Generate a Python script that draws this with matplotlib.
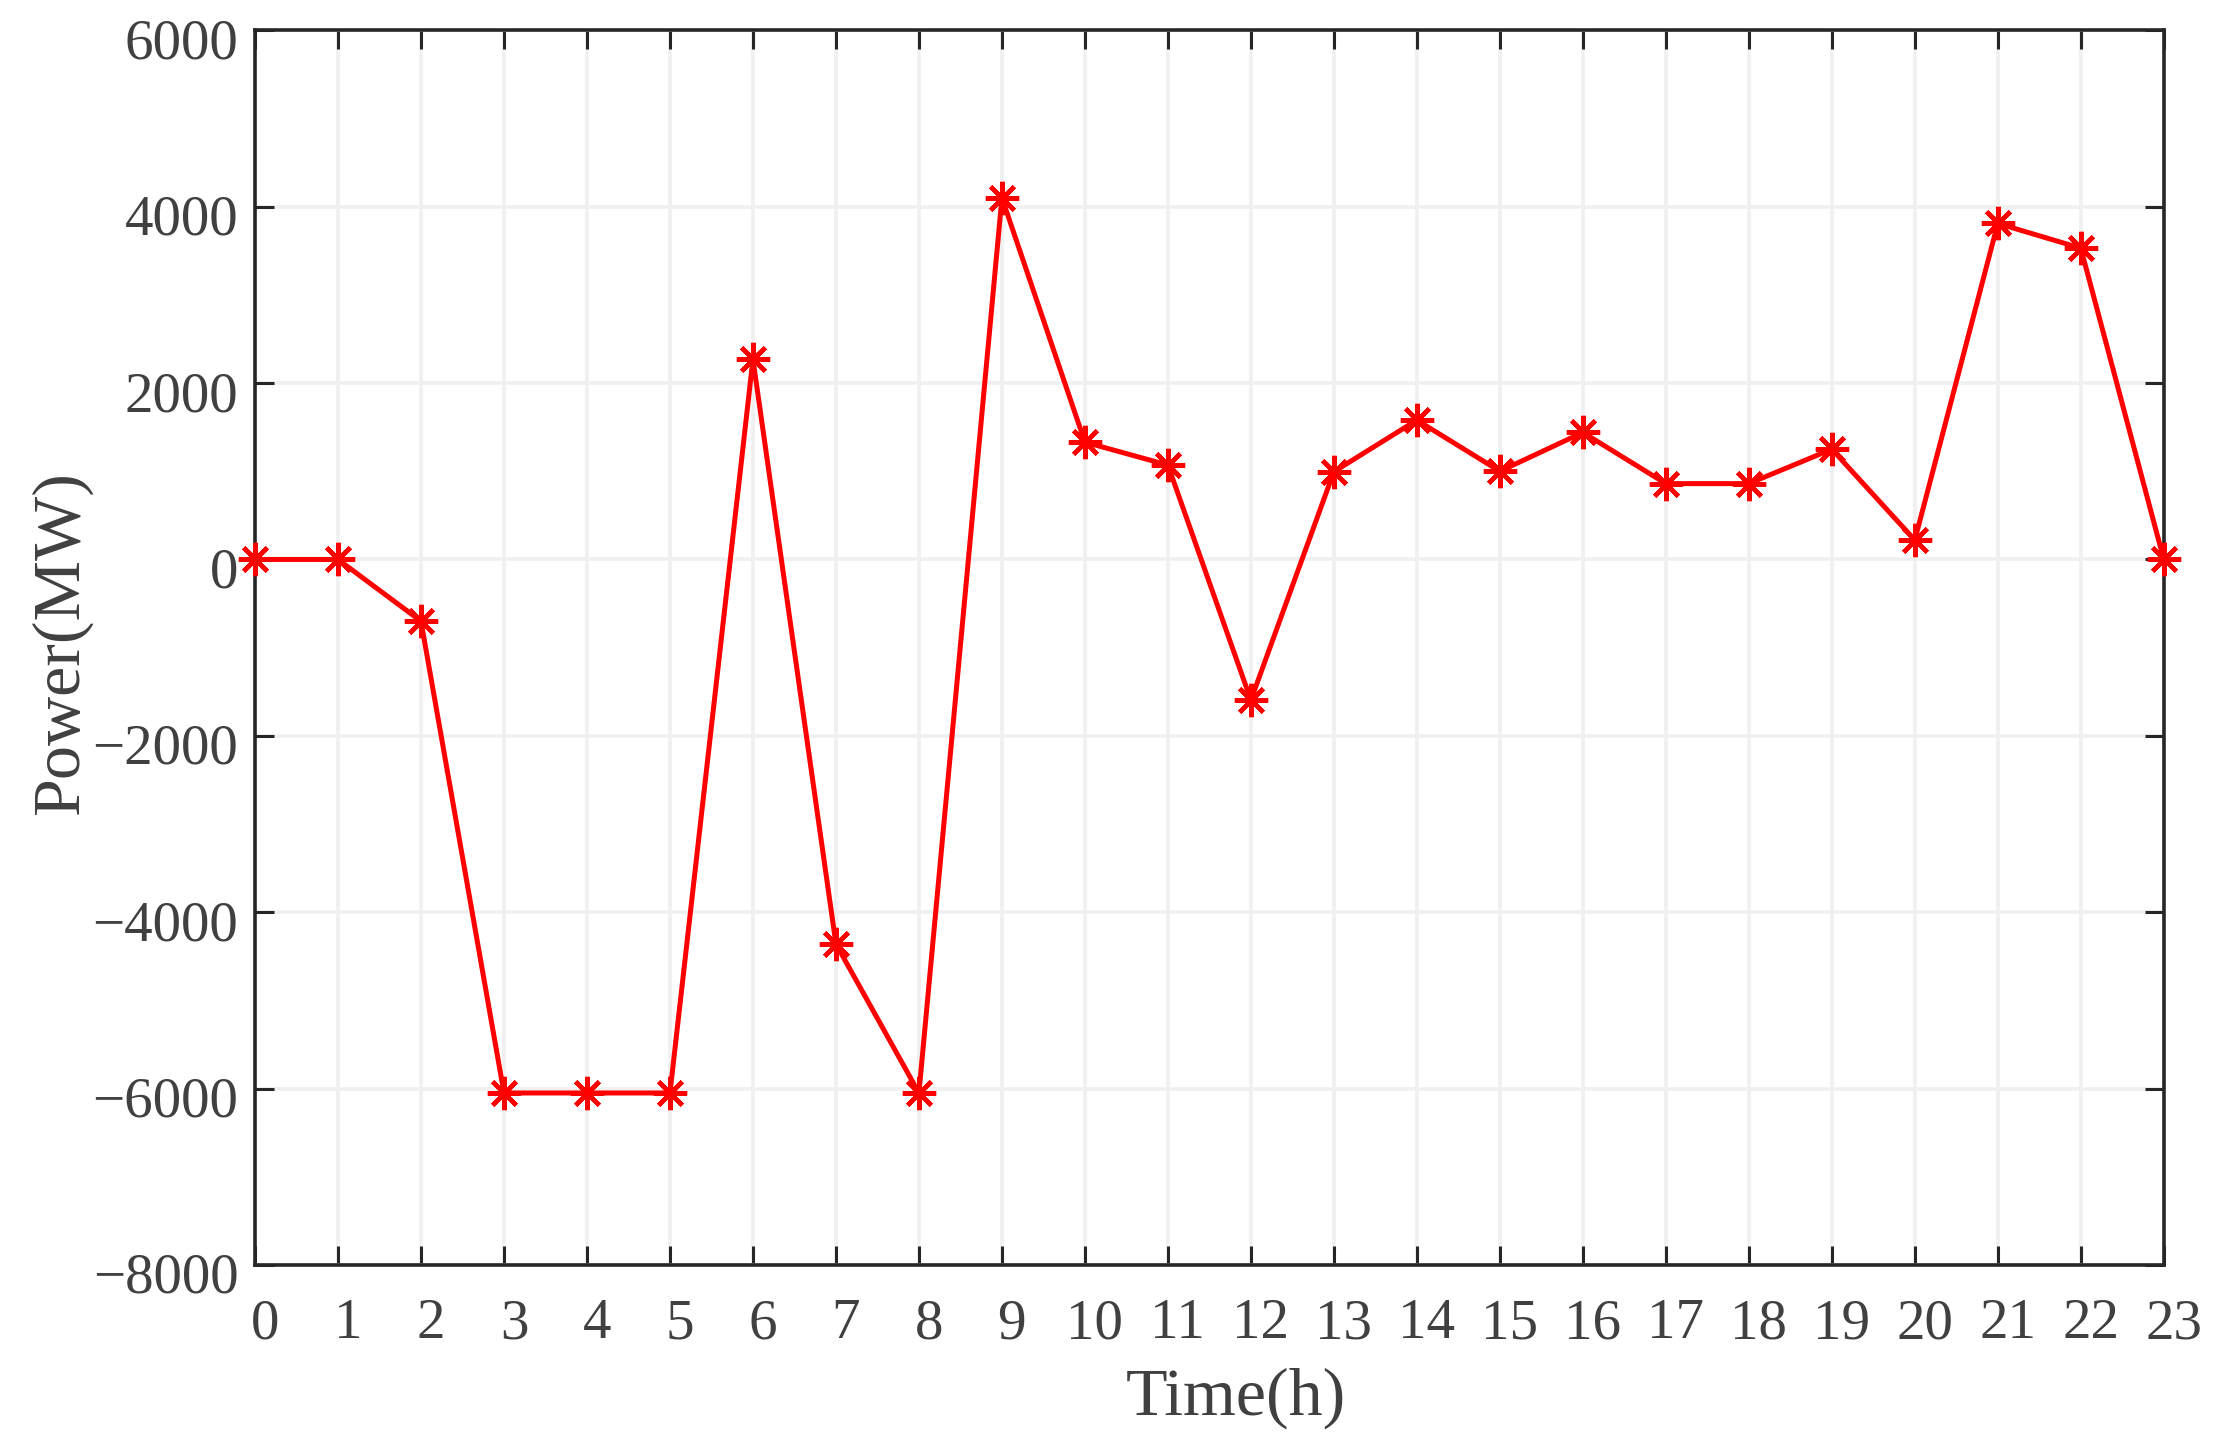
import matplotlib
matplotlib.use('Agg')
import matplotlib.pyplot as plt
import matplotlib.transforms as mtransforms

# dane
hours = list(range(24))
power_mw = [0, 0, -700, -6050, -6050, -6050, 2270, -4360, -6050, 4100,
            1330, 1070, -1595, 995, 1580, 1000, 1440, 860, 860, 1250,
            220, 3810, 3530, 0]
y_ticks = [-8000, -6000, -4000, -2000, 0, 2000, 4000, 6000]

plt.rcParams['font.family'] = ['Liberation Serif', 'DejaVu Serif']
text_color = '#404040'

fig = plt.figure(figsize=(22.33, 14.44), dpi=100)
ax = fig.add_axes([0.1142, 0.124, 0.969 - 0.1142, 0.979 - 0.124])

ax.plot(hours, power_mw, color='red', linewidth=3.6,
        marker=(8, 2, 0), markersize=24, markeredgewidth=3.2,
        markeredgecolor='red', clip_on=False, zorder=3)

ax.set_xlim(0, 23)
ax.set_ylim(-8000, 6000)
ax.set_xticks(hours)
ax.set_yticks(y_ticks)

ax.grid(True, color='#f0f0f0', linewidth=2.6)
ax.set_axisbelow(True)

for s in ax.spines.values():
    s.set_linewidth(2.6)
    s.set_color('#262626')

ax.tick_params(direction='in', length=14, width=2.2, color='#262626',
               top=True, right=True, labelsize=41, labelcolor=text_color)
ax.tick_params(axis='x', pad=24)
ax.tick_params(axis='y', pad=12)

# lekkie przesunięcie etykiet (jak w oryginale z MATLAB-a)
dx = mtransforms.ScaledTranslation(10 / 100, 0, fig.dpi_scale_trans)
dy = mtransforms.ScaledTranslation(0, -8 / 100, fig.dpi_scale_trans)
for lbl in ax.get_xticklabels():
    lbl.set_transform(lbl.get_transform() + dx)
for lbl in ax.get_yticklabels():
    lbl.set_transform(lbl.get_transform() + dy)

ax.set_xlabel('Time(h)', fontsize=49, color=text_color, labelpad=12)
ax.set_ylabel('Power(MW)', fontsize=49, color=text_color, labelpad=0)
ax.xaxis.label.set_x(0.514)
ax.yaxis.label.set_y(0.504)

fig.savefig('out.png', dpi=100, facecolor='white')
